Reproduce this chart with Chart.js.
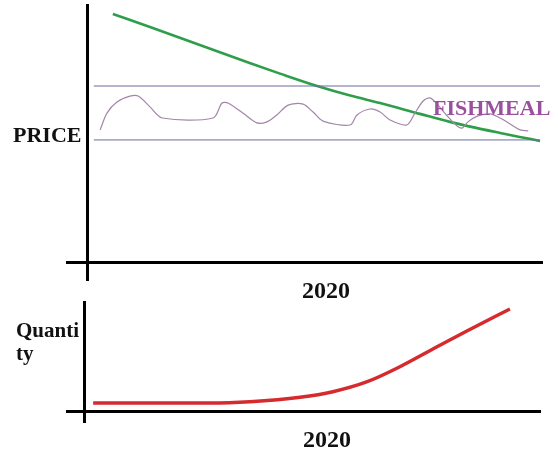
<!DOCTYPE html>
<html lang="en">
<head>
<meta charset="UTF-8">
<title>Fishmeal price and quantity</title>
<style>
  body { margin: 0; background: #fff; }
  #wrap { position: relative; width: 558px; height: 455px; overflow: hidden; }
  canvas { position: absolute; left: 0; }
  .lbl { position: absolute; font-family: "Liberation Serif", "Times New Roman", serif; font-weight: bold; color: #111; white-space: nowrap; }
</style>
</head>
<body>
<div id="wrap">
  <canvas id="priceChart" width="558" height="300" style="top:0"></canvas>
  <canvas id="qtyChart" width="558" height="165" style="top:290px"></canvas>
  <div class="lbl" style="left:13px; top:124px; font-size:22px; line-height:22px;">PRICE</div>
  <div class="lbl" style="left:226px; width:200px; text-align:center; top:278px; font-size:24px; line-height:24px;">2020</div>
  <div class="lbl" style="left:433px; top:97px; font-size:22px; line-height:22px; color:#9b4f9f;">FISHMEAL</div>
  <div class="lbl" style="left:16px; top:320px; font-size:21px; line-height:21px;">Quanti</div>
  <div class="lbl" style="left:16px; top:343px; font-size:21px; line-height:21px;">ty</div>
  <div class="lbl" style="left:227px; width:200px; text-align:center; top:427px; font-size:24px; line-height:24px;">2020</div>
</div>

<script src="https://cdn.jsdelivr.net/npm/chart.js"></script>
<script>
// x = position through 2020 (0..100), y = relative level
const trendX = [5.7, 13.9, 24.9, 35.9, 42.6, 50.8, 58.1, 64.7, 73.5, 80.1, 91.2, 100];
const trendPrice = [96.5, 91.5, 84.5, 77.5, 73.4, 68.6, 64.9, 62.0, 57.8, 54.7, 50.4, 47.3];

const fishX = [2.9, 4.4, 6.6, 9.5, 11.3, 13.9, 16.6, 27.8, 29.8, 31.1, 34.4, 37.5, 39.7, 41.9, 44.4, 47.7, 49.9, 52.1,
  58.1, 59.6, 62.5, 64.7, 66.9, 70.6, 72.4, 74.2, 75.7, 77.3, 79.7, 81.7, 82.8, 84.1, 86.3, 89.0, 91.2, 93.4, 95.6, 97.4];
const fishPrice = [51.6, 58.1, 62.4, 64.7, 64.7, 60.5, 56.2, 56.2, 62.0, 62.0, 58.1, 54.3, 54.7, 57.4, 61.2, 61.6, 58.5, 55.0,
  53.5, 57.4, 59.7, 58.5, 55.4, 53.5, 58.1, 62.8, 64.0, 61.6, 56.6, 53.1, 52.3, 54.7, 57.0, 57.8, 56.2, 53.9, 51.6, 51.2];

const bandX = [1.5, 100];
const bandHigh = [68.6, 68.6];
const bandLow = [47.7, 47.7];

const qtyX = [1.8, 27.6, 36.4, 47.5, 54.7, 62.3, 69.5, 76.8, 84.3, 93.8];
const qtyY = [7.3, 7.3, 8.5, 12.6, 17.7, 26.9, 40.6, 56.9, 73.4, 93.6];

function pts(xs, ys) {
  return xs.map((x, i) => ({ x: x, y: ys[i] }));
}

function axes(xmin, xmax, ymin, ymax) {
  return {
    x: {
      type: 'linear', min: xmin, max: xmax, position: { y: 0 },
      grid: { display: false }, ticks: { display: false },
      border: { display: true, color: '#000', width: 3 }
    },
    y: {
      type: 'linear', min: ymin, max: ymax, position: { x: 0 },
      grid: { display: false }, ticks: { display: false },
      border: { display: true, color: '#000', width: 3 }
    }
  };
}

const common = {
  responsive: false,
  animation: false,
  plugins: { legend: { display: false }, tooltip: { enabled: false } },
  elements: { point: { radius: 0 } }
};

new Chart(document.getElementById('priceChart'), {
  type: 'line',
  data: {
    datasets: [
      { data: pts(bandX, bandHigh), borderColor: '#6a6aa2', borderWidth: 1, tension: 0 },
      { data: pts(bandX, bandLow), borderColor: '#6a6aa2', borderWidth: 1, tension: 0 },
      { data: pts(fishX, fishPrice), borderColor: '#a485aa', borderWidth: 1.2, tension: 0.3 },
      { data: pts(trendX, trendPrice), borderColor: '#2f9e4a', borderWidth: 2.6, cubicInterpolationMode: 'monotone' }
    ]
  },
  options: Object.assign({}, common, {
    layout: { padding: { left: 67, right: 16, top: 5, bottom: 20 } },
    scales: axes(-4.42, 100.44, -6.59, 100)
  })
});

new Chart(document.getElementById('qtyChart'), {
  type: 'line',
  data: {
    datasets: [
      { data: pts(qtyX, qtyY), borderColor: '#d52b2f', borderWidth: 3.5, cubicInterpolationMode: 'monotone' }
    ]
  },
  options: Object.assign({}, common, {
    layout: { padding: { left: 67, right: 18, top: 12, bottom: 33 } },
    scales: axes(-3.97, 100.44, -10.09, 100)
  })
});
</script>
</body>
</html>
